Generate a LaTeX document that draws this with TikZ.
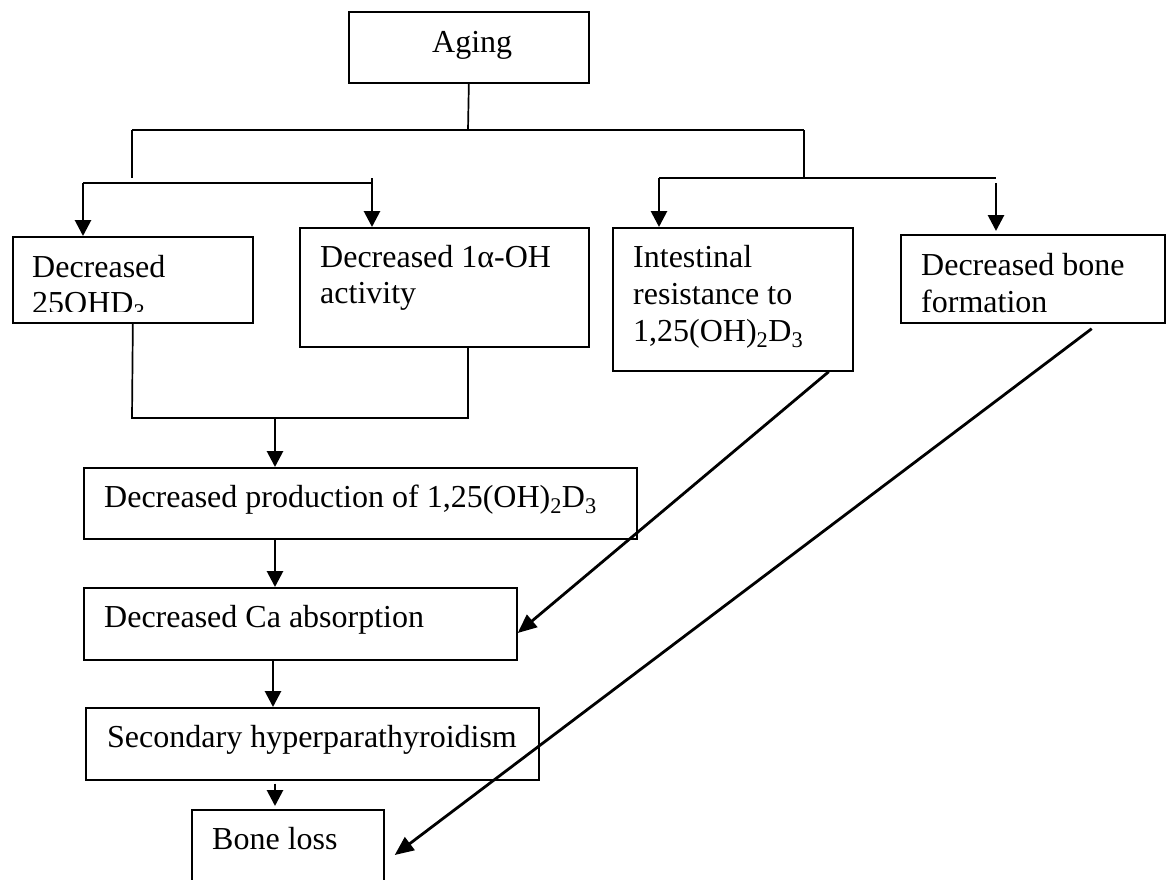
\documentclass[tikz,border=0pt]{standalone}
\usepackage{fontspec}
\setmainfont{Liberation Serif}
\usetikzlibrary{arrows.meta}
\begin{document}
\begin{tikzpicture}[x=1pt,y=-1pt,
  box/.style={draw, line width=1.7pt, rectangle, inner sep=0pt, anchor=north west},
  txt/.style={anchor=base west, inner sep=0pt, font=\fontsize{32}{36}\selectfont},
  thinline/.style={line width=1.7pt},
  arr/.style={line width=2.8pt, -{Triangle[length=16pt,width=16pt]}},
  diag/.style={line width=2.8pt, -{Triangle[length=19pt,width=16pt]}}]
\clip (0,0) rectangle (1173,879);
\fill[white] (0,0) rectangle (1173,879);

% boxes
\node[box, minimum width=240pt, minimum height=71pt]  (aging)  at (348,11)  {};
\node[box, minimum width=240pt, minimum height=86pt]  (d25)    at (12,236)  {};
\node[box, minimum width=289pt, minimum height=119pt] (d1a)    at (299,227) {};
\node[box, minimum width=240pt, minimum height=143pt] (intest) at (612,227) {};
\node[box, minimum width=264pt, minimum height=88pt]  (bonef)  at (900,234) {};
\node[box, minimum width=553pt, minimum height=71pt]  (prod)   at (83,467)  {};
\node[box, minimum width=433pt, minimum height=72pt]  (ca)     at (83,587)  {};
\node[box, minimum width=453pt, minimum height=72pt]  (sec)    at (85,707)  {};
\node[box, minimum width=192pt, minimum height=90pt]  (bone)   at (191,809) {};

% texts
\node[txt] (agingT) at (432,52) {Aging};
\begin{scope}
  \clip (12,236) rectangle (252,311);
  \node[txt] (d25a) at (32,277) {Decreased};
  \node[txt] (d25b) at (32,313) {25OHD\textsubscript{3}};
\end{scope}
\node[txt] (d1aA) at (320,267) {Decreased 1α-OH};
\node[txt] (d1aB) at (320,303) {activity};
\node[txt] (intA) at (633,267) {Intestinal};
\node[txt] (intB) at (633,304) {resistance to};
\node[txt] (intC) at (633,341) {1,25(OH)\textsubscript{2}D\textsubscript{3}};
\node[txt] (bfA) at (921,275) {Decreased bone};
\node[txt] (bfB) at (921,312) {formation};
\node[txt] (prodT) at (104,507) {Decreased production of 1,25(OH)\textsubscript{2}D\textsubscript{3}};
\node[txt] (caT) at (104,627) {Decreased Ca absorption};
\node[txt] (secT) at (107,747) {Secondary hyperparathyroidism};
\node[txt] (boneT) at (212,849) {Bone loss};

% top tree
\coordinate (j1) at (468,130);
\coordinate (jl) at (132,130);
\coordinate (jr) at (804,130);
\coordinate (jle) at (132,178);
\coordinate (jre) at (804,178);
\draw[thinline] (aging.south) -- (j1);
\draw[thinline] (jl) -- (jr);
\draw[thinline] (jl) -- (jle);
\draw[thinline] (jr) -- (jre);

% left sub-branch
\coordinate (lb1) at (83,183);
\coordinate (lb2) at (372,183);
\coordinate (lb3) at (372,178);
\draw[thinline] (lb1) -- (lb2);
\draw[arr] (lb1) -- (lb1 |- d25.north);
\draw[arr] (lb3) -- (lb3 |- d1a.north);

% right sub-branch
\coordinate (rb1) at (659,178);
\coordinate (rb2) at (996,178);
\coordinate (rb3) at (996,183);
\draw[thinline] (rb1) -- (rb2);
\draw[arr] (rb1) -- (rb1 |- intest.north);
\draw[arr] (rb3) -- ([yshift=3pt]rb3 |- bonef.north);

% merge
\coordinate (m1) at (132,418);
\coordinate (m2) at (468,418);
\coordinate (m0) at (275,418);
\coordinate (c1) at (273,418);
\draw[thinline] (d25.south) -- (m1) -- (m2) -- (m2 |- d1a.south);
\draw[arr] (m0) -- (m0 |- prod.north);
\draw[arr] (m0 |- prod.south) -- (m0 |- ca.north);
\draw[arr] (c1 |- ca.south) -- (c1 |- sec.north);
\draw[arr] ([yshift=-3pt]m0 |- sec.south) -- ([yshift=3pt]m0 |- bone.north);

% diagonals
\draw[diag] ([xshift=-25pt]intest.south east) -- ([yshift=-46pt]ca.north east);
\draw[diag] ([xshift=-74pt,yshift=-5pt]bonef.south east) -- ([xshift=10pt,yshift=-46pt]bone.north east);
\end{tikzpicture}
\end{document}
